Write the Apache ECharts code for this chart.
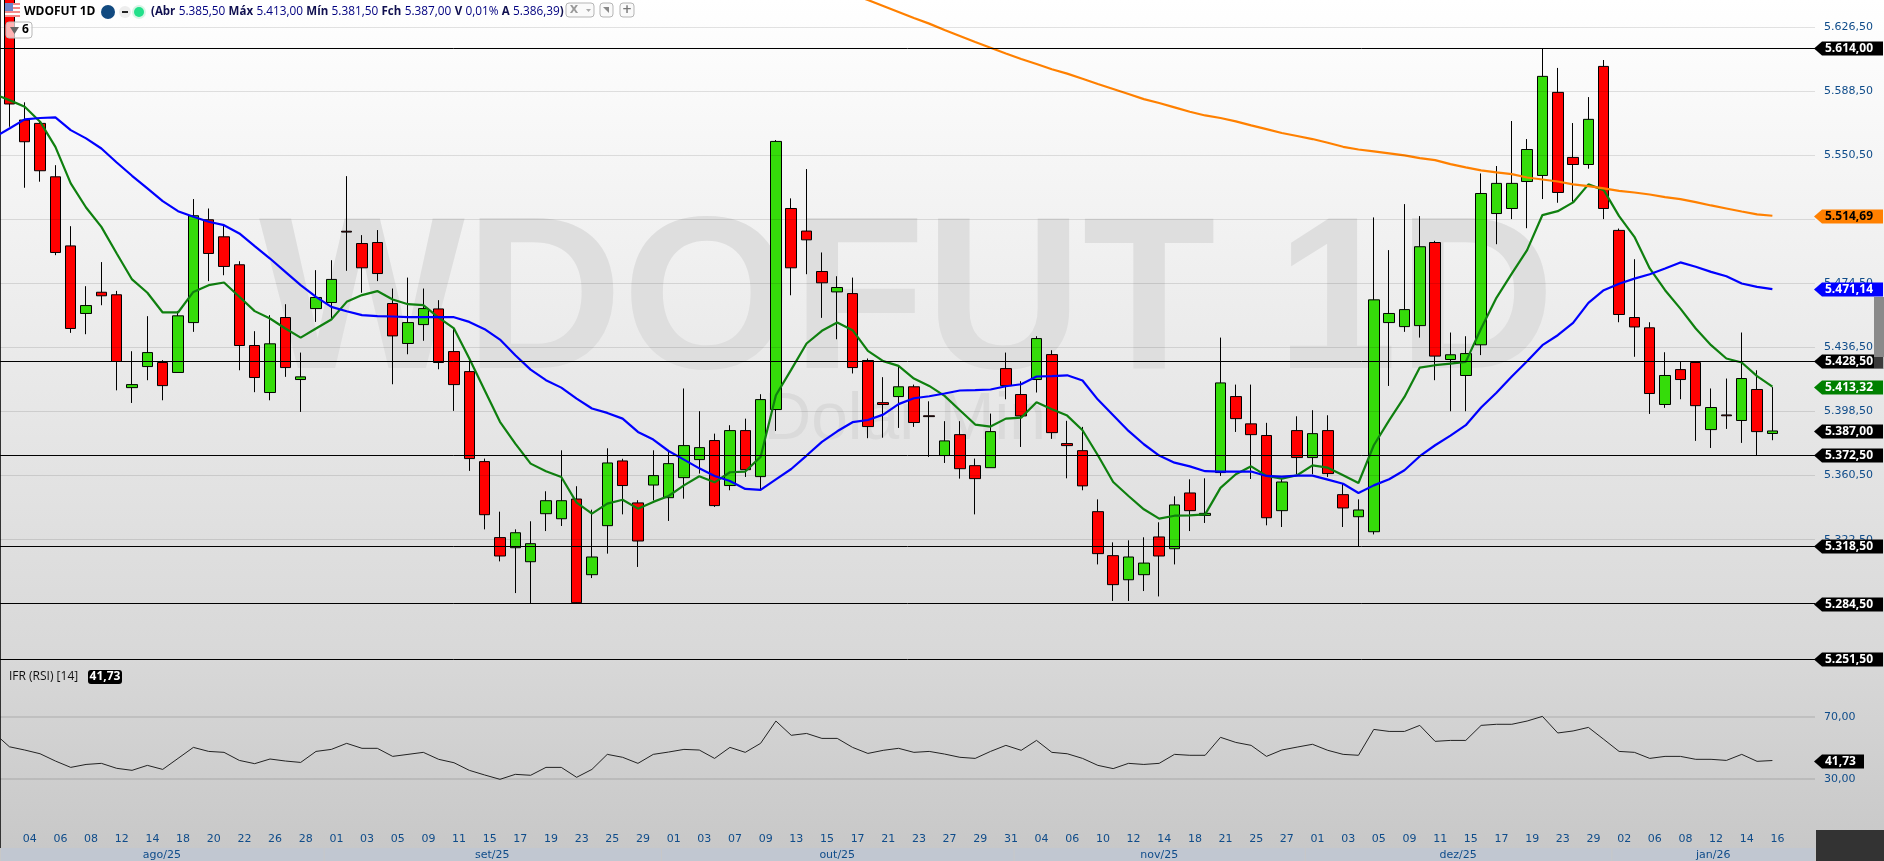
<!DOCTYPE html>
<html>
<head>
<meta charset="utf-8">
<title>WDOFUT 1D</title>
<script src="https://cdn.jsdelivr.net/npm/echarts@6/dist/echarts.min.js"></script>
<style>
  html, body { margin: 0; padding: 0; background: #fff; }
  #chart { width: 1884px; height: 861px; }
</style>
</head>
<body>
<div id="chart"></div>
<script>
const opens = [5652,5571.5,5569.5,5537.8,5496.8,5456.7,5469.3,5467.8,5412.7,5425.2,5427.6,5421.7,5451.3,5512.3,5502.2,5485.6,5437.7,5409.8,5454.3,5417.5,5459.6,5463.2,5505.5,5498.2,5498.8,5462.6,5438.9,5450.1,5459.4,5434.1,5422.2,5368.8,5323.7,5317.7,5309.4,5337.9,5334.9,5346.6,5301.7,5330.8,5369.2,5344.3,5354.9,5347.4,5359.3,5370,5381.3,5354.6,5387.2,5359.9,5399.7,5519,5505.6,5481.6,5469.5,5468.5,5428.8,5403.8,5407.4,5413.2,5396,5372.4,5384.8,5366.4,5365.2,5424,5408.6,5417.5,5432.3,5379.5,5375.3,5339.1,5313,5298.7,5301.7,5324.1,5317.1,5350.2,5336.9,5362.3,5407.4,5391.2,5384.3,5339.7,5387.2,5371.2,5387.2,5349.2,5336.1,5327.2,5451.3,5448.9,5449.5,5498.8,5429.4,5419.9,5438.1,5516,5519,5535,5538.6,5587.9,5549.3,5545.1,5603.3,5506,5454.3,5448.2,5402.7,5423.4,5427.6,5387.8,5396.5,5393.2,5411.6,5385.5]
const closes = [5581,5558.6,5541.4,5492.9,5447.8,5461.4,5467.2,5428.2,5414.5,5433.5,5413.9,5455.3,5514.7,5492.3,5484.6,5437.7,5418.7,5438.7,5424.6,5419.1,5466.2,5476.9,5505,5483.8,5480.4,5443.4,5451.3,5459.6,5427.6,5414.5,5370.6,5337.3,5312.8,5326.6,5320.1,5345.6,5345.6,5285.1,5312.2,5368,5354.6,5321.7,5360.5,5367.6,5378.3,5377.1,5342.7,5387.2,5364,5405.6,5558.8,5483.8,5500.4,5474.9,5472.1,5424.6,5389.6,5402.7,5413.2,5392,5395.5,5381.1,5364.6,5358.7,5386.6,5413.9,5395.9,5441.8,5386,5378.3,5354.4,5314.2,5295.8,5312.2,5308.6,5312.8,5343.1,5339.7,5338.1,5415.5,5394.3,5384.8,5335.5,5356.7,5371.2,5385.4,5361.7,5341.3,5340.1,5464.8,5456.7,5459,5496.3,5431.4,5432.2,5432.9,5527.9,5533.9,5533.9,5554,5597.4,5528.5,5545.1,5571.9,5519,5456.1,5448.7,5409.2,5419.9,5417.5,5402,5400.9,5396,5418.1,5386.6,5387]
const lows = [5567.5,5531.3,5534.9,5491.3,5445.2,5444.4,5461.6,5411.1,5403.6,5417.1,5405.2,5421.7,5445.8,5475.9,5479.4,5423,5410,5405.2,5419.1,5398.3,5451.7,5453.7,5482,5469,5475.9,5414.7,5432.5,5440.5,5423.6,5398.9,5363.3,5328.6,5309.6,5290.8,5284.5,5327.6,5330.6,5284.5,5299.7,5314.2,5337.5,5306.3,5345.8,5333.6,5346.8,5361.7,5341.9,5351.8,5359.7,5352.2,5387,5467.5,5480,5454.1,5441.4,5421.1,5382.7,5383,5388.8,5389.4,5371.6,5368,5358.7,5337.5,5365.2,5405.8,5377.5,5409.8,5382.3,5358.9,5351.8,5307.8,5286.1,5286.1,5292,5288.8,5307.8,5327.6,5332.4,5360.3,5386.4,5358.5,5331,5330,5361.3,5361.3,5359.7,5330,5318.5,5325.6,5413.7,5445.8,5442.4,5417.1,5398.7,5398.7,5432,5497.8,5512.7,5507.3,5524.6,5522.4,5523,5542.6,5512.7,5451.5,5431,5397.1,5400.7,5405.8,5381.1,5376.9,5388.2,5379.9,5372.4,5381.5]
const highs = [5660,5582,5570.5,5544.7,5508.5,5472.9,5487.2,5470.1,5434.3,5455.1,5429,5458.2,5524.6,5519,5509.7,5487.7,5446.2,5455.7,5462.2,5433.5,5482.4,5488.3,5538.2,5503.2,5506.2,5471.5,5478,5471.5,5464.6,5447.8,5430,5370.6,5339.1,5328.6,5333.4,5351.2,5375.5,5354.2,5340.3,5376.7,5370.5,5345.9,5375.5,5375,5412.2,5398.7,5385.4,5390.4,5394.3,5408.8,5559.6,5525,5542.4,5492.9,5478.8,5478,5430,5418.9,5425,5414.5,5404.6,5392.8,5392.8,5370.6,5397.3,5433.5,5416.5,5443.2,5434.9,5393,5389.4,5346.4,5320.9,5322.1,5323.9,5332.8,5348.2,5358.3,5358.9,5442.4,5414.5,5414.5,5391.8,5358.7,5395.7,5399.3,5396.3,5355.7,5346.4,5513.7,5494.3,5521.6,5514.5,5499.8,5445.4,5443.2,5539.8,5544.2,5570.9,5560.2,5614,5602.4,5569.7,5585.1,5607.1,5507.1,5488.9,5451.5,5433.7,5428,5428,5412.2,5418.1,5445.4,5423,5413]

// moving averages start one bar before the first candle, off the left edge
const greenMa = [5586.9,5583.3,5579.4,5570.5,5555.6,5533.9,5519.6,5508.1,5492.3,5476.9,5469,5457.3,5457.3,5469.5,5473.5,5475.1,5466.6,5458.1,5453.7,5447.8,5442.4,5447.8,5453.1,5463.6,5467.6,5470,5465,5462.2,5461.6,5454.3,5447.8,5430,5411.2,5392.4,5379.5,5367.6,5363.1,5359.7,5344.5,5337.9,5343.9,5346.2,5340.9,5344.9,5348.4,5354.7,5360.1,5356.5,5362.5,5362.9,5371.6,5408.2,5423.4,5438.9,5446.4,5451.3,5446.8,5434.5,5428.4,5425.6,5418.1,5413.7,5407.8,5399.3,5390.8,5389.6,5394.3,5394.9,5404,5399.9,5396.1,5387.4,5372.6,5356.7,5348.4,5340.5,5335,5336.7,5336.9,5337.5,5353.2,5361.3,5366,5360.3,5358.7,5360.7,5366.6,5365.2,5360.7,5356.1,5378.5,5393.3,5407.2,5424.6,5426,5427,5428,5447.8,5466,5480.4,5494.3,5515.1,5517.4,5522.6,5533.3,5529.9,5514.5,5502.2,5483.4,5470.5,5459.6,5447.8,5437.9,5430,5427.6,5419.5,5413.3]
const blueMa = [5561.2,5566.5,5571.9,5572.7,5573.1,5565.5,5560.6,5554.6,5546.3,5538.4,5530.9,5523.4,5517.4,5514.1,5511.1,5509.1,5504.2,5496.7,5489.3,5481.4,5473.5,5466.6,5460.6,5458,5455.7,5455.1,5454.9,5454.5,5454.5,5454.5,5454.5,5451.7,5447.4,5441.2,5431.9,5423.4,5417.1,5412.7,5406.2,5400.3,5397.7,5394.3,5386.4,5381.9,5375.1,5370,5364.8,5360.3,5357.3,5352.6,5352,5358.3,5364.4,5372.4,5380.5,5386.8,5392.2,5393.5,5396.7,5402.9,5406.4,5407.6,5409.2,5411,5411.2,5411.6,5413.5,5414.7,5419.3,5419.5,5420,5416.9,5405.6,5396.3,5387,5379.1,5372.4,5368.2,5366,5363.1,5362.9,5362.9,5362.9,5360.3,5359.9,5360.5,5360.5,5358.1,5355.7,5350.2,5354.7,5358.3,5363.7,5372,5378.5,5384.2,5390.4,5400.9,5409.7,5419.3,5428.4,5437.9,5443.8,5451.1,5463,5470.5,5474.3,5477.4,5480,5483.4,5487,5484.4,5481.4,5478.8,5474.5,5472.5,5471.1]
const orangeStart = 55
const orangeMa = [5646,5642.7,5639.2,5635.6,5632,5628.7,5624.9,5621.4,5617.8,5614.4,5611,5607.7,5604.7,5601.6,5599,5596,5592.9,5589.9,5586.9,5583.9,5581.6,5579,5576.4,5574.2,5572.7,5570.7,5568.3,5566.1,5563.8,5562,5560.2,5558,5555.6,5554,5552.9,5551.7,5550.5,5548.9,5547.7,5545.3,5543.4,5541.6,5540.4,5539.4,5537.4,5536.2,5535,5533.3,5532.3,5530.9,5529.5,5528.5,5527.3,5525.7,5524.6,5522.8,5520.8,5519,5517.2,5515.5,5514.7]
const rsiValues = [59.5,50.6,48.5,46.1,41.4,37.3,39.2,39.9,36.7,35.4,38.6,36,43.1,50.2,47.6,47,41.8,39.7,42.7,41.4,40.5,47.6,48.9,52.8,49.6,49.6,44.4,45.7,47,42.5,40.3,35.4,32.4,29.6,32.8,32.2,37.3,37.3,30.9,36,45.7,43.8,39.9,45.7,47.2,48.9,48.5,43.1,50.2,47,52.8,67.2,58,59.2,56,56,50.2,46.3,48.3,49.6,47,47.6,45.9,43.8,43.1,47.6,51.5,48.3,54.7,47,46.1,43.1,38.6,36.5,39.9,39.2,39.9,45.7,45.1,45.1,56.7,53.4,51.5,44.4,48.5,50.4,52.2,48.3,45.7,45.1,61.8,60.5,60.5,64.4,54.1,54.7,54.7,64.4,65.1,65.1,67.2,70.2,59.5,60.8,63.1,55.4,47.6,47,43.1,44.4,44.4,42.5,42.5,41.8,45.7,41.2,41.73]

const priceTicks = [5626.5,5588.5,5550.5,5512.5,5474.5,5436.5,5398.5,5360.5,5322.5,5284.5]
const rsiTicks = [70,30]
const levelPrices = [5614,5428.5,5372.5,5318.5,5284.5,5251.5]
const lastPrice = 5387
const maTags = [5514.69,5471.14,5413.32]
const rsiLast = 41.73

const dayLabels = ['04','06','08','12','14','18','20','22','26','28','01','03','05','09','11','15','17','19','23','25','29','01','03','07','09','13','15','17','21','23','27','29','31','04','06','10','12','14','18','21','25','27','01','03','05','09','11','15','17','19','23','29','02','06','08','12','14','16']
const monthNames = ['ago/25','set/25','out/25','nov/25','dez/25','jan/26']
const monthStarts = [-0.613,20.5,42.5,65.5,84.5,104.5]

const X_MIN = -0.6132, X_MAX = 117.78
const LABEL_SHIFT = 0.33
const PRICE_MIN = 5251.5, PRICE_MAX = 5642.71
const RSI_MIN = -14.71, RSI_MAX = 106.58
const FONT = '"DejaVu Sans", sans-serif'
const TICK_COLOR = '#0f4c8a'

function fmtBr(v) {
  const [a, b] = v.toFixed(2).split('.')
  return a.replace(/\B(?=(\d{3})+$)/g, '.') + ',' + b
}

const candles = opens.map((o, i) => [i, o, closes[i], lows[i], highs[i]])
const offIdx = (arr, start) => arr.map((v, i) => [i + start, v])

function gridLines(values, yAxisIndex, xAxisIndex, lineStyle, z) {
  return {
    type: 'line', data: [], xAxisIndex, yAxisIndex, z, silent: true,
    markLine: {
      silent: true, symbol: 'none', animation: false,
      label: { show: false },
      lineStyle,
      data: values.map(v => ({ yAxis: v })),
    },
  }
}

// price tag with the arrow pointing into the plot
function tagSeries(items, xAxisIndex, yAxisIndex, right) {
  return {
    type: 'custom', xAxisIndex, yAxisIndex, z: 6, clip: false, silent: true,
    data: items.map(t => [0, t.value]),
    renderItem(params, api) {
      const t = items[params.dataIndex]
      const y = Math.round(api.coord([0, api.value(1)])[1]) + 0.5
      const h = 7
      return {
        type: 'group',
        children: [
          { type: 'polygon', shape: { points: [[1814, y], [1822, y - h], [right, y - h], [right, y + h], [1822, y + h]] }, style: { fill: t.bg } },
          { type: 'text', style: { text: t.text, x: 1825, y, fill: t.color, font: 'bold 12px "Open Sans", sans-serif', verticalAlign: 'middle', textAlign: 'left' } },
        ],
      }
    },
  }
}

const priceTags = [
  ...levelPrices.map(v => ({ value: v, text: fmtBr(v), bg: '#000', color: '#fff' })),
  { value: lastPrice, text: fmtBr(lastPrice), bg: '#000', color: '#fff' },
  { value: maTags[0], text: fmtBr(maTags[0]), bg: '#ff8000', color: '#000' },
  { value: maTags[1], text: fmtBr(maTags[1]), bg: '#0000ff', color: '#fff' },
  { value: maTags[2], text: fmtBr(maTags[2]), bg: '#008000', color: '#fff' },
]

const monthSeries = {
  type: 'custom', xAxisIndex: 1, yAxisIndex: 1, z: 3, clip: false, silent: true,
  data: monthStarts.map((s, i) => [s, 0, i]),
  renderItem(params, api) {
    const i = params.dataIndex
    const x0 = api.coord([monthStarts[i], 0])[0]
    const x1 = api.coord([i + 1 < monthStarts.length ? monthStarts[i + 1] : X_MAX, 0])[0]
    const top = params.coordSys.y + params.coordSys.height
    return {
      type: 'group',
      children: [
        { type: 'rect', shape: { x: x0 + 1, y: top, width: x1 - x0 - 1, height: 13 }, style: { fill: '#c1c7d1' } },
        { type: 'text', style: { text: monthNames[i], x: (x0 + x1) / 2, y: top + 7, fill: TICK_COLOR, font: '11px ' + FONT, textAlign: 'center', verticalAlign: 'middle' } },
      ],
    }
  },
}

const hdrText = '{k|(Abr} {v|5.385,50} {k|Máx} {v|5.413,00} {k|Mín} {v|5.381,50} {k|Fch} {v|5.387,00} {k|V} {v|0,01%} {k|A} {v|5.386,39}{k|)}'
const flagStripes = [0, 1, 2, 3, 4, 5, 6].map(i => ({
  type: 'rect', z: 10, shape: { x: 5, y: 3 + i * 2, width: 15, height: 2 }, style: { fill: i % 2 ? '#fff' : '#f58a8a' },
}))

const toolBox = (x, w) => ({
  type: 'rect', z: 10, shape: { x, y: 3, width: w, height: 14, r: 3 },
  style: { fill: '#fafafa', stroke: '#b5b5b5', lineWidth: 1 },
})

const graphics = [
  { type: 'text', z: 0, silent: true, style: { text: 'WDOFUT 1D', x: 907, y: 308, fill: '#dedede', font: 'bold 218px "Liberation Sans", sans-serif', textAlign: 'center', verticalAlign: 'middle' } },
  { type: 'text', z: 0, silent: true, style: { text: 'Dolar Mini', x: 912, y: 421, fill: '#dadada', font: '66px "Liberation Sans", sans-serif', textAlign: 'center', verticalAlign: 'middle' } },
  { type: 'rect', z: 1, shape: { x: 0, y: 0, width: 1, height: 848 }, style: { fill: '#333' } },
  { type: 'rect', z: 1, shape: { x: 1816, y: 830, width: 68, height: 31 }, style: { fill: '#333' } },
  { type: 'rect', z: 9, shape: { x: 1874, y: 297, width: 10, height: 60 }, style: { fill: '#8a8a8a' } },
  { type: 'rect', z: 9, shape: { x: 1874, y: 357, width: 10, height: 12 }, style: { fill: 'rgba(128,128,128,0.45)' } },
  ...flagStripes,
  { type: 'rect', z: 10, shape: { x: 5, y: 3, width: 8, height: 8 }, style: { fill: '#6f86c9' } },
  { type: 'text', z: 10, style: { text: 'WDOFUT 1D', x: 24, y: 12, fill: '#000', font: 'bold 12px "Open Sans", sans-serif', verticalAlign: 'middle' } },
  { type: 'circle', z: 10, shape: { cx: 108, cy: 12, r: 7 }, style: { fill: '#124a80' } },
  { type: 'circle', z: 10, shape: { cx: 125, cy: 12, r: 6 }, style: { fill: '#eeeeee' } },
  { type: 'rect', z: 11, shape: { x: 122, y: 11, width: 6, height: 2 }, style: { fill: '#222' } },
  { type: 'circle', z: 10, shape: { cx: 139, cy: 12, r: 7 }, style: { fill: '#d8f5e6' } },
  { type: 'circle', z: 11, shape: { cx: 139, cy: 12, r: 5 }, style: { fill: '#22e08a' } },
  {
    type: 'text', z: 10,
    style: {
      text: hdrText, x: 151, y: 12, verticalAlign: 'middle',
      rich: {
        k: { font: 'bold 11.5px "Open Sans", sans-serif', fill: '#101050' },
        v: { font: '11.8px "Open Sans", sans-serif', fill: '#000080' },
      },
    },
  },
  toolBox(566, 28), toolBox(600, 13), toolBox(620, 14),
  { type: 'text', z: 11, style: { text: 'X', x: 574, y: 10, fill: '#999', font: 'bold 11px ' + FONT, textAlign: 'center', verticalAlign: 'middle' } },
  { type: 'polygon', z: 11, shape: { points: [[586, 9], [591, 9], [588.5, 12]] }, style: { fill: '#aaa' } },
  { type: 'polygon', z: 11, shape: { points: [[603, 7], [609, 7], [609, 13]] }, style: { fill: '#888' } },
  { type: 'text', z: 11, style: { text: '+', x: 627, y: 10, fill: '#777', font: 'bold 12px ' + FONT, textAlign: 'center', verticalAlign: 'middle' } },
  { type: 'rect', z: 10, shape: { x: 6, y: 22, width: 26, height: 16, r: 3 }, style: { fill: 'rgba(255,255,255,0.7)', stroke: '#b8b8b8', lineWidth: 1 } },
  { type: 'polygon', z: 11, shape: { points: [[10, 27], [19, 27], [14.5, 34]] }, style: { fill: '#666' } },
  { type: 'text', z: 11, style: { text: '6', x: 22, y: 30, fill: '#000', font: 'bold 12px "Open Sans", sans-serif', verticalAlign: 'middle' } },
  { type: 'text', z: 10, style: { text: 'IFR (RSI) [14]', x: 9, y: 677, fill: '#111', font: '12px "Open Sans", sans-serif', verticalAlign: 'middle' } },
  { type: 'rect', z: 10, shape: { x: 88, y: 670, width: 34, height: 14, r: 3 }, style: { fill: '#000' } },
  { type: 'text', z: 11, style: { text: fmtBr(rsiLast), x: 105, y: 677, fill: '#fff', font: 'bold 12px "Open Sans", sans-serif', textAlign: 'center', verticalAlign: 'middle' } },
]

const chart = echarts.init(document.getElementById('chart'))
chart.setOption({
  animation: false,
  backgroundColor: {
    type: 'linear', x: 0, y: 0, x2: 0, y2: 1,
    colorStops: [
      { offset: 0, color: '#ffffff' },
      { offset: 659 / 861, color: '#d8d8d8' },
      { offset: 848 / 861, color: '#c8c8c8' },
      { offset: 1, color: '#c8c8c8' },
    ],
  },
  graphic: graphics,
  grid: [
    { left: 0, top: 0, width: 1815, height: 659.3 },
    { left: 0, top: 660, width: 1815, height: 188 },
  ],
  xAxis: [
    { type: 'value', gridIndex: 0, min: X_MIN, max: X_MAX, show: false, splitLine: { show: false } },
    {
      type: 'value', gridIndex: 1, min: X_MIN, max: X_MAX,
      axisLine: { show: false }, axisTick: { show: false }, splitLine: { show: false },
      axisLabel: {
        inside: true, margin: 3, color: TICK_COLOR, fontSize: 11, fontFamily: FONT,
        customValues: dayLabels.map((_, i) => 2 * i + 1 + LABEL_SHIFT),
        formatter: v => dayLabels[(Math.round(v - LABEL_SHIFT) - 1) / 2],
      },
    },
  ],
  yAxis: [
    {
      type: 'value', gridIndex: 0, position: 'right', min: PRICE_MIN, max: PRICE_MAX,
      axisLine: { show: false }, axisTick: { show: false }, splitLine: { show: false },
      axisLabel: { margin: 9, color: TICK_COLOR, fontSize: 11, fontFamily: FONT, padding: [2, 0, 0, 0], customValues: priceTicks, formatter: v => fmtBr(v) },
    },
    {
      type: 'value', gridIndex: 1, position: 'right', min: RSI_MIN, max: RSI_MAX,
      axisLine: { show: false }, axisTick: { show: false }, splitLine: { show: false },
      axisLabel: { margin: 9, color: TICK_COLOR, fontSize: 11, fontFamily: FONT, padding: [2, 0, 0, 0], customValues: rsiTicks, formatter: v => fmtBr(v) },
    },
  ],
  series: [
    gridLines(priceTicks, 0, 0, { color: 'rgba(0,0,0,0.11)', width: 1, type: 'solid' }, 1),
    gridLines(rsiTicks, 1, 1, { color: 'rgba(0,0,0,0.09)', width: 2, type: 'solid' }, 1),
    {
      type: 'candlestick', xAxisIndex: 0, yAxisIndex: 0, z: 2, barWidth: 11, data: candles,
      itemStyle: { color: '#35dc0a', color0: '#ff0000', borderColor: '#000', borderColor0: '#000', borderColorDoji: '#000', borderWidth: 1 },
    },
    gridLines(levelPrices, 0, 0, { color: '#000', width: 1, type: 'solid' }, 3),
    { type: 'line', data: offIdx(greenMa, -1), showSymbol: false, z: 4, silent: true, lineStyle: { color: '#0f800f', width: 2.2 } },
    { type: 'line', data: offIdx(blueMa, -1), showSymbol: false, z: 4, silent: true, lineStyle: { color: '#0000ff', width: 2.2 } },
    { type: 'line', data: offIdx(orangeMa, orangeStart), showSymbol: false, z: 4, silent: true, lineStyle: { color: '#ff8000', width: 2.2 } },
    { type: 'line', xAxisIndex: 1, yAxisIndex: 1, data: offIdx(rsiValues, -1), showSymbol: false, z: 4, silent: true, lineStyle: { color: '#222', width: 1 } },
    monthSeries,
    tagSeries(priceTags, 0, 0, 1883),
    tagSeries([{ value: rsiLast, text: fmtBr(rsiLast), bg: '#000', color: '#fff' }], 1, 1, 1864),
  ],
})
</script>
</body>
</html>
